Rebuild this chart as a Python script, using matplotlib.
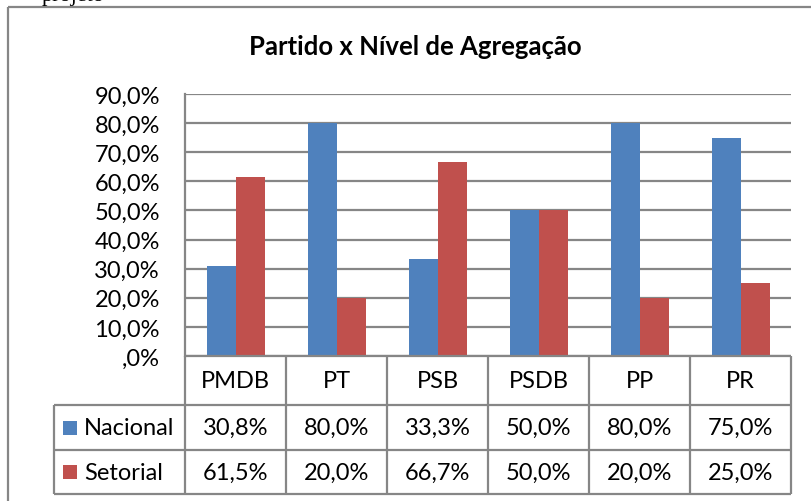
import matplotlib
matplotlib.use("Agg")
import matplotlib.pyplot as plt
from matplotlib.lines import Line2D
from matplotlib.patches import Rectangle

# ---- data ----
categories = ["PMDB", "PT", "PSB", "PSDB", "PP", "PR"]
nacional = [30.8, 80.0, 33.3, 50.0, 80.0, 75.0]
setorial = [61.5, 20.0, 66.7, 50.0, 20.0, 25.0]
series_names = ["Nacional", "Setorial"]
yticks = [0, 10, 20, 30, 40, 50, 60, 70, 80, 90]
ytick_labels = [",0%", "10,0%", "20,0%", "30,0%", "40,0%", "50,0%",
                "60,0%", "70,0%", "80,0%", "90,0%"]
title = "Partido x Nível de Agregação"

BLUE = "#4F81BD"
RED = "#C0504D"
GRID = "#868686"
FONT = "Lato"
FS = 17

W, H = 811, 502
fig = plt.figure(figsize=(W / 100, H / 100), dpi=100)
fig.patch.set_facecolor("white")


def fx(px):
    return px / W


def fy(py):
    return 1 - py / H


def hline(y, x0, x1, lw=1.6, color=GRID):
    fig.add_artist(Line2D([fx(x0), fx(x1)], [fy(y), fy(y)], color=color,
                          lw=lw, transform=fig.transFigure, solid_capstyle="butt"))


def vline(x, y0, y1, lw=1.6, color=GRID):
    fig.add_artist(Line2D([fx(x), fx(x)], [fy(y0), fy(y1)], color=color,
                          lw=lw, transform=fig.transFigure, solid_capstyle="butt"))


# plot area geometry (pixels)
PL, PR, PT, PB = 185, 791, 95, 357

ax = fig.add_axes([fx(PL), fy(PB), fx(PR) - fx(PL), fy(PT) - fy(PB)])
n = len(categories)
xs = list(range(n))
bw = 29 / 101
ax.bar([x - bw / 2 for x in xs], nacional, width=bw, color=BLUE, zorder=3)
ax.bar([x + bw / 2 for x in xs], setorial, width=bw, color=RED, zorder=3)
ax.set_xlim(-0.5, n - 0.5)
ax.set_ylim(0, 90)
ax.set_yticks(yticks)
ax.set_yticklabels(ytick_labels, fontfamily=FONT, fontsize=FS)
ax.set_xticks([])
ax.tick_params(axis="y", length=0, pad=18)
ax.yaxis.grid(True, color=GRID, lw=1.6, zorder=0)
for s in ["top", "right", "bottom"]:
    ax.spines[s].set_visible(False)
ax.spines["left"].set_color(GRID)
ax.spines["left"].set_linewidth(1.6)

# ---- data table ----
col_edges = [PL + 101 * i for i in range(n + 1)]
row_edges = [PB, 406, 451, 495]
TL = 54
hline(PB, PL, PR)
for y in row_edges[1:]:
    hline(y, TL, PR)
for x in col_edges:
    vline(x, PB, row_edges[-1])
vline(TL, row_edges[1], row_edges[-1])

for i, c in enumerate(categories):
    cx = (col_edges[i] + col_edges[i + 1]) / 2
    cy = (row_edges[0] + row_edges[1]) / 2
    fig.text(fx(cx), fy(cy), c, ha="center", va="center", fontfamily=FONT,
             fontsize=FS)

for r, (name, vals, col) in enumerate([(series_names[0], nacional, BLUE),
                                       (series_names[1], setorial, RED)]):
    cy = (row_edges[r + 1] + row_edges[r + 2]) / 2
    fig.add_artist(Rectangle((fx(63), fy(cy + 7)), fx(14), fy(0) - fy(14),
                             facecolor=col, edgecolor="none",
                             transform=fig.transFigure))
    fig.text(fx(84), fy(cy), name, ha="left", va="center", fontfamily=FONT,
             fontsize=FS)
    for i, v in enumerate(vals):
        cx = (col_edges[i] + col_edges[i + 1]) / 2
        txt = f"{v:.1f}%".replace(".", ",")
        fig.text(fx(cx), fy(cy), txt, ha="center", va="center",
                 fontfamily=FONT, fontsize=FS)

# title
fig.text(fx(415), fy(47), title, ha="center", va="center", fontfamily=FONT,
         fontsize=18.5, fontweight="bold")

# outer chart frame (extends past the image edges)
hline(8, 8, W + 5)
vline(8, 8, H + 5)

# fragment of the document text above the chart (cut off, as in the source)
fig.text(fx(42), fy(1), "projeto", ha="left", va="baseline",
         fontfamily="Liberation Serif", fontsize=16)

fig.savefig("out.png", dpi=100)
